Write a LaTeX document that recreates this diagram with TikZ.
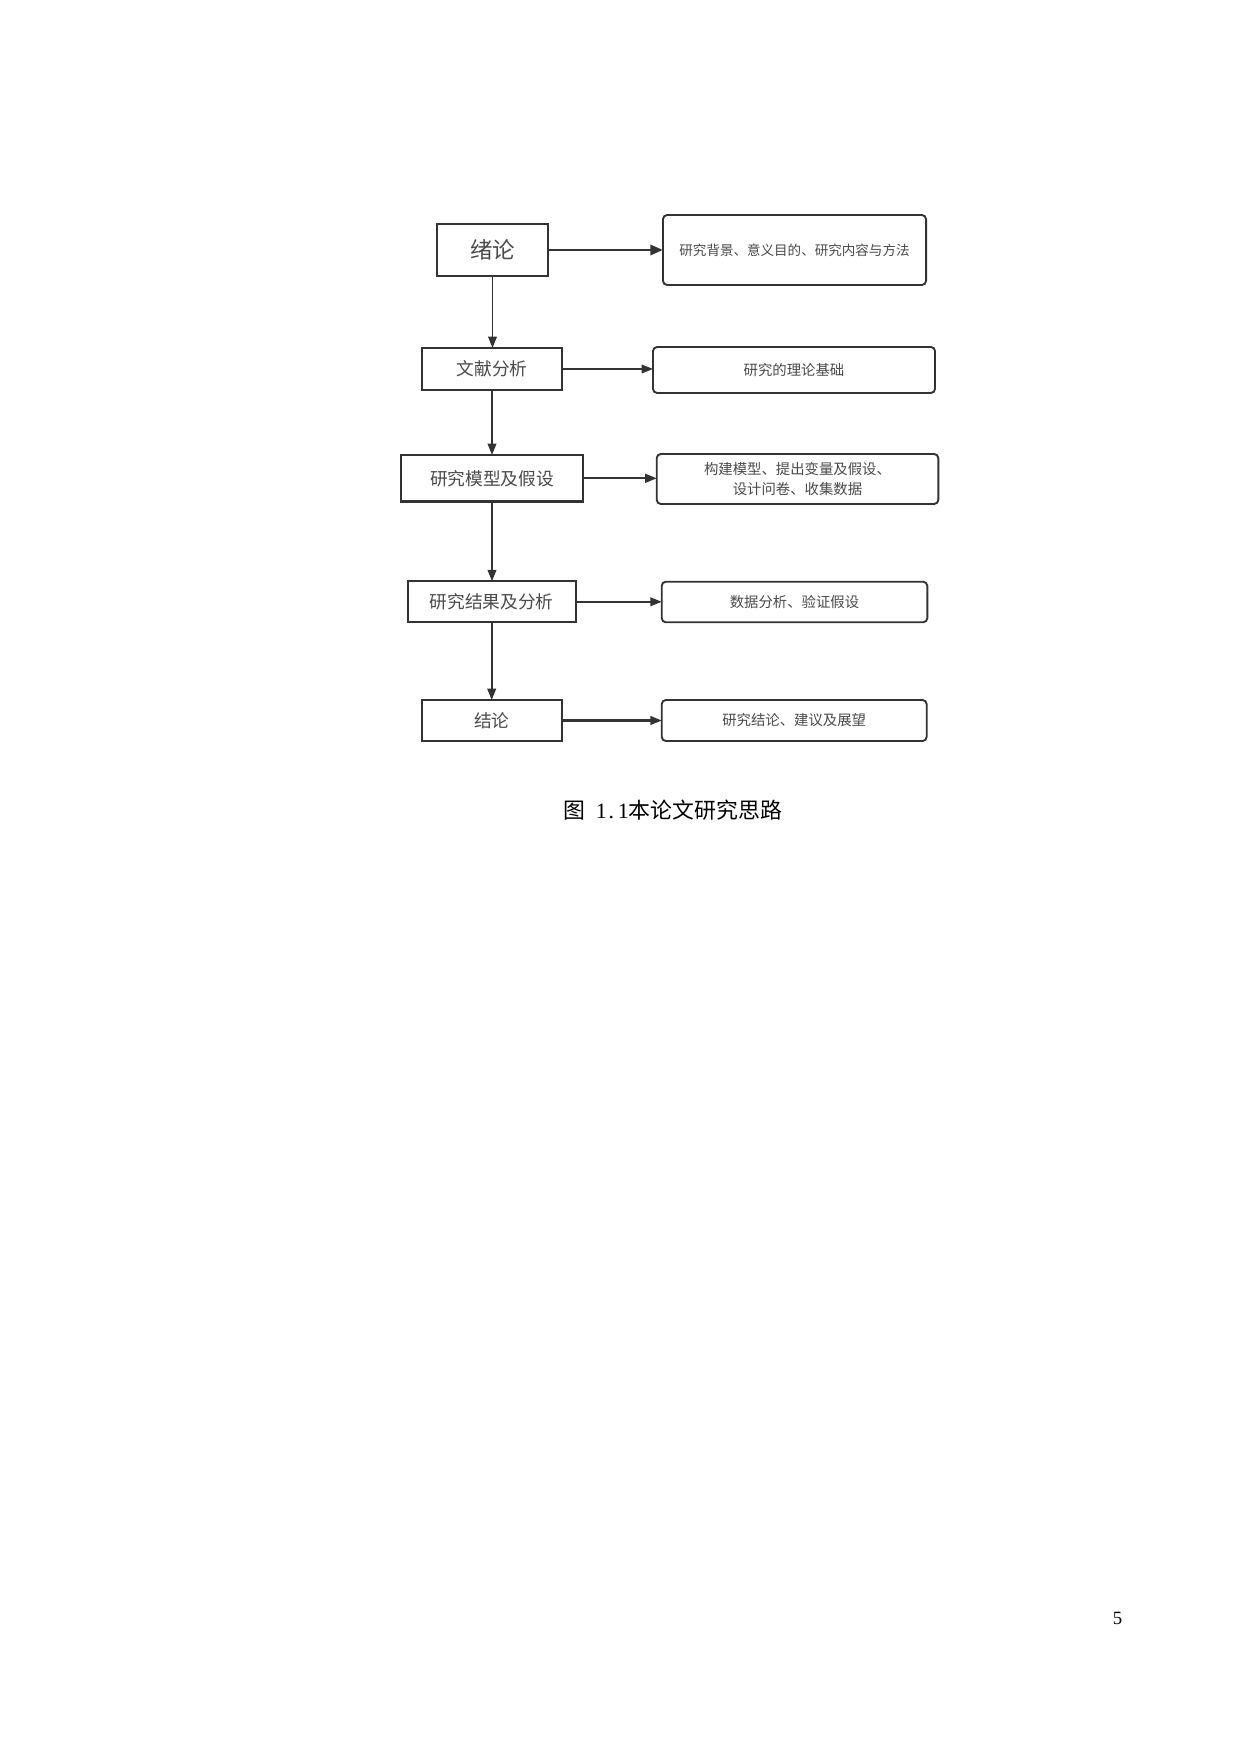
\documentclass[tikz,border=0pt]{standalone}
\usepackage{fontspec}
\setmainfont{Liberation Serif}
\newfontfamily\cjk{Noto Sans CJK SC}
\usetikzlibrary{arrows.meta}
\definecolor{edgec}{HTML}{333333}
\definecolor{txtc}{HTML}{4A4A4A}
\tikzset{
  lbox/.style={draw=edgec, line width=1.1pt, fill=white, inner sep=0pt, outer sep=0pt, align=center, text=txtc, font=\cjk\fontsize{8.5pt}{10pt}\selectfont},
  rbox/.style={draw=edgec, line width=0.9pt, rounded corners=2pt, fill=white, inner sep=0pt, outer sep=0pt, align=center, text=txtc, font=\cjk\fontsize{6.9pt}{9.3pt}\selectfont},
  flow/.style={draw=edgec, line width=0.8pt, -{Triangle[length=5.5pt,width=4.2pt]}},
  flowthick/.style={draw=edgec, line width=1.4pt, -{Triangle[length=6pt,width=4.8pt]}}
}
\begin{document}
\begin{tikzpicture}[x=0.48006pt, y=-0.48006pt]
\useasboundingbox (0,0) rectangle (1240,1754);
% left column
\node[lbox, minimum width=53.3pt, minimum height=25pt, font=\cjk\fontsize{10.8pt}{12pt}\selectfont] (L1) at (492.5,250) {绪论};
\node[lbox, minimum width=67.2pt, minimum height=20.2pt] (L2) at (492,369) {文献分析};
\node[lbox, minimum width=87.7pt, minimum height=22.4pt] (L3) at (492,478.3) {研究模型及假设};
\node[lbox, minimum width=80.6pt, minimum height=19.7pt] (L4) at (491.7,601.8) {研究结果及分析};
\node[lbox, minimum width=67.2pt, minimum height=19.7pt] (L5) at (491.7,720.5) {结论};
% right column
\node[rbox, minimum width=126.3pt, minimum height=33.6pt, font=\cjk\fontsize{6.5pt}{8pt}\selectfont] (R1) at (794.5,250) {研究背景、意义目的、研究内容与方法};
\node[rbox, minimum width=135.4pt, minimum height=22.1pt] (R2) at (794,370) {研究的理论基础};
\node[rbox, minimum width=135.2pt, minimum height=24pt] (R3) at (797.5,479) {构建模型、提出变量及假设、\\设计问卷、收集数据};
\node[rbox, minimum width=127.5pt, minimum height=19.5pt] (R4) at (794.5,602) {数据分析、验证假设};
\node[rbox, minimum width=127.2pt, minimum height=19.7pt] (R5) at (794.2,720.5) {研究结论、建议及展望};
% vertical arrows
\draw[flow] (L1.south) -- (L1.south |- L2.north);
\draw[flow] (L2.south) -- (L2.south |- L3.north);
\draw[flow] (L3.south) -- (L3.south |- L4.north);
\draw[flow] (L4.south) -- (L4.south |- L5.north);
% horizontal arrows
\draw[flowthick] (L1.east) -- (R1.west);
\draw[flow, line width=0.7pt] (L2.east) -- (L2.east -| R2.west);
\draw[flow, line width=1pt] (L3.east) -- (L3.east -| R3.west);
\draw[flow] (L4.east) -- (L4.east -| R4.west);
\draw[flow, line width=1pt] (L5.east) -- (L5.east -| R5.west);
% caption
\node[inner sep=0pt, font=\fontsize{10.5pt}{12pt}\selectfont] (cap) at (672.5,810) {{\cjk 图}\hspace{0.5em}\makebox[0.5em]{1}\makebox[0.5em][l]{\hspace{0.08em}.}\makebox[0.5em]{1}{\cjk 本论文研究思路}};
% page number
\node[inner sep=0pt, font=\fontsize{9pt}{10pt}\selectfont] (pg) at (1117.5,1618.5) {5};
\end{tikzpicture}
\end{document}
